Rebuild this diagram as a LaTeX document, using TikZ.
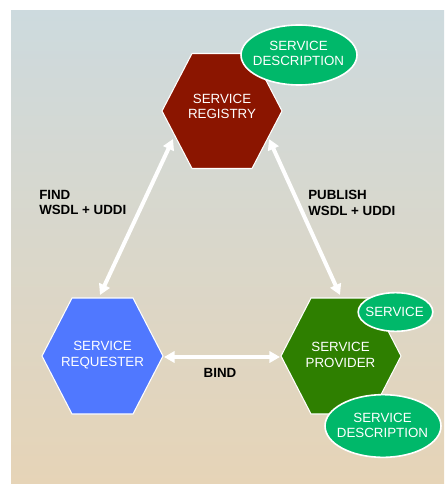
\documentclass[tikz,border=0pt]{standalone}
\usepackage{fontspec}
\setmainfont{Liberation Sans}
\usetikzlibrary{arrows.meta}

\definecolor{bgtop}{RGB}{205,218,222}
\definecolor{bgbottom}{RGB}{230,212,183}
\definecolor{regred}{RGB}{139,21,0}
\definecolor{reqblue}{RGB}{80,120,255}
\definecolor{provgreen}{RGB}{46,127,0}
\definecolor{descgreen}{RGB}{0,184,106}

\tikzset{
  hexfill/.style={draw=white, line width=0.8pt},
  hextext/.style={text=white, align=center, inner sep=0pt,
    font=\fontsize{10}{11.5}\selectfont},
  blob/.style={fill=descgreen, draw=white, line width=1.2pt},
  blobtext/.style={text=white, align=center, inner sep=0pt,
    font=\fontsize{10}{11.5}\selectfont},
  edgelabel/.style={align=left, inner sep=0pt,
    font=\fontsize{10}{11.6}\selectfont\bfseries},
  link/.style={draw=white, line width=3pt,
    {Triangle[length=8pt,width=8.5pt]}-{Triangle[length=8pt,width=8.5pt]}},
}

\begin{document}
\begin{tikzpicture}[x=0.75pt,y=-0.75pt]
  \useasboundingbox (0,0) rectangle (444,484);
  % backdrop
  \shade[top color=bgtop, bottom color=bgbottom] (11,11) rectangle (444,484);

  % hexagons
  \path[hexfill, fill=regred]
    (162,111) -- (192,53.5) -- (252,53.5) -- (282,111) -- (252,168.5) -- (192,168.5) -- cycle;
  \path[hexfill, fill=reqblue]
    (42,356) -- (72,298) -- (133,298) -- (163,356) -- (133,414) -- (72,414) -- cycle;
  \path[hexfill, fill=provgreen]
    (281,356) -- (311,298) -- (371,298) -- (401,356) -- (371,414) -- (311,414) -- cycle;

  \node[hextext] (registry)  at (222,106.5) {SERVICE\\REGISTRY};
  \node[hextext] (requester) at (102.5,355) {SERVICE\\REQUESTER};
  \node[hextext] (provider)  at (340.5,355) {SERVICE\\PROVIDER};

  % connector end points on the hexagon borders
  \coordinate (regFind) at (173,139);
  \coordinate (regPub)  at (269,139);
  \coordinate (reqTop)  at (100,295);
  \coordinate (provTop) at (340,295);
  \coordinate (reqRight) at (164,357);
  \coordinate (provLeft) at (280,357);

  \draw[link] (reqTop) -- (regFind);
  \draw[link] (provTop) -- (regPub);
  \draw[link] (reqRight) -- (provLeft);

  % descriptions attached to the roles
  \path[blob] (299,55) ellipse [x radius=43.5pt, y radius=22.5pt];
  \path[blob] (395.5,312) ellipse [x radius=28pt, y radius=14.5pt];
  \path[blob] (383,426) ellipse [x radius=43.5pt, y radius=23.5pt];
  \node[blobtext] (regdesc)  at (298.5,53.5) {SERVICE\\DESCRIPTION};
  \node[blobtext] (service)  at (394.5,312) {SERVICE};
  \node[blobtext] (provdesc) at (382.5,425.5) {SERVICE\\DESCRIPTION};

  % connector labels
  \node[edgelabel, anchor=north west] (find) at (39,190) {FIND\\WSDL + UDDI};
  \node[edgelabel, anchor=north west] (publish) at (308,190) {PUBLISH\\WSDL + UDDI};
  \node[edgelabel] (bind) at (220,373) {BIND};
\end{tikzpicture}
\end{document}
